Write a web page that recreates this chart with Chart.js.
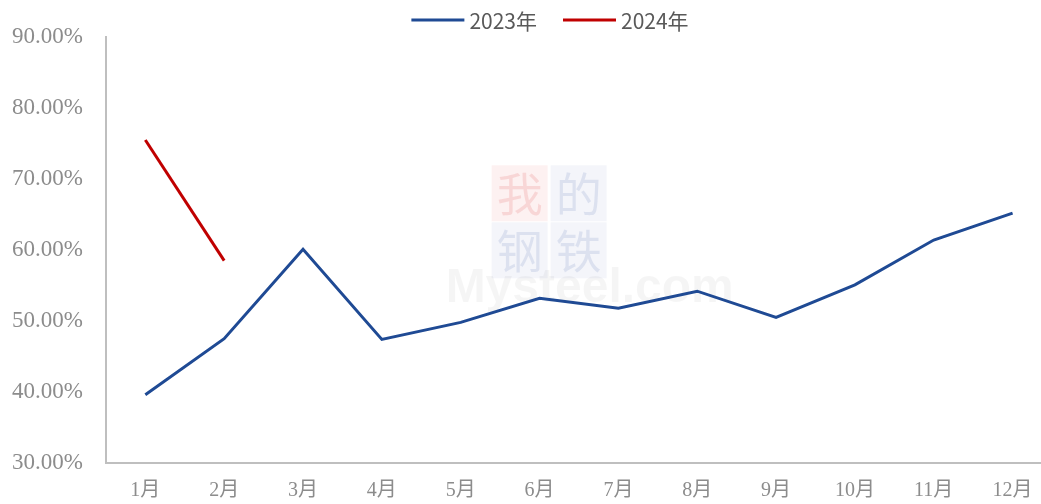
<!DOCTYPE html>
<html>
<head>
<meta charset="utf-8">
<script src="https://cdn.jsdelivr.net/npm/chart.js@4"></script>
<style>
  html, body { margin: 0; padding: 0; background: #fff; overflow: hidden; }
  #wrap { position: relative; width: 1052px; height: 513px; }
</style>
</head>
<body>
<div id="wrap"><canvas id="chart"></canvas></div>
<script>
  // values (percent)
  const months = ['1月', '2月', '3月', '4月', '5月', '6月', '7月', '8月', '9月', '10月', '11月', '12月'];
  const rate2023 = [39.6, 47.5, 60.1, 47.4, 49.8, 53.2, 51.8, 54.2, 50.5, 55.1, 61.4, 65.2];
  const rate2024 = [75.5, 58.5, null, null, null, null, null, null, null, null, null, null];
  const yTicks = [30, 40, 50, 60, 70, 80, 90];

  const axisGrey = '#bfbfbf';
  const tickGrey = '#8c8c8c';

  // faint site watermark behind the lines
  const watermark = {
    id: 'watermark',
    beforeDatasetsDraw(chart) {
      const { ctx, chartArea: a } = chart;
      const cx = a.left + (a.right - a.left) * 0.469;
      const cy = a.top + (a.bottom - a.top) * 0.435;
      const s = 56;
      ctx.save();
      const cells = [
        ['我', -1, -1, 'rgba(230,60,60,0.07)', 'rgba(220,60,60,0.15)'],
        ['的', 0, -1, 'rgba(60,90,170,0.06)', 'rgba(60,90,170,0.13)'],
        ['钢', -1, 0, 'rgba(60,90,170,0.06)', 'rgba(60,90,170,0.13)'],
        ['铁', 0, 0, 'rgba(60,90,170,0.06)', 'rgba(60,90,170,0.13)'],
      ];
      ctx.textAlign = 'center';
      ctx.textBaseline = 'middle';
      ctx.font = '46px "Noto Sans CJK SC"';
      cells.forEach(([ch, dx, dy, bg, fg]) => {
        const x = dx < 0 ? cx - s - 2 : cx + 1;
        const y = dy < 0 ? cy - s - 1 : cy;
        ctx.fillStyle = bg;
        ctx.fillRect(x, y, s, s);
        ctx.fillStyle = fg;
        ctx.fillText(ch, x + s / 2, y + s / 2);
      });
      ctx.font = 'bold 48px "Liberation Sans"';
      ctx.fillStyle = 'rgba(0,0,0,0.04)';
      ctx.textAlign = 'left';
      ctx.fillText('Mysteel.com', cx - 104, cy + s + 10);
      ctx.restore();
    },
  };

  // legend drawn by hand so the sample line sits close to its text
  const topLegend = {
    id: 'topLegend',
    afterDraw(chart) {
      const { ctx } = chart;
      const sets = chart.data.datasets;
      const lineW = 53, gapText = 5, gapItem = 26, y = 20;
      ctx.save();
      ctx.font = '21px "Noto Sans CJK SC", "Noto Sans"';
      ctx.textBaseline = 'middle';
      const widths = sets.map((d) => lineW + gapText + ctx.measureText(d.label).width);
      const total = widths.reduce((s, w) => s + w, 0) + gapItem * (sets.length - 1);
      let x = 550 - total / 2;
      sets.forEach((d, i) => {
        ctx.strokeStyle = d.borderColor;
        ctx.lineWidth = 3;
        ctx.beginPath();
        ctx.moveTo(x, y);
        ctx.lineTo(x + lineW, y);
        ctx.stroke();
        ctx.fillStyle = '#595959';
        ctx.fillText(d.label, x + lineW + gapText, y + 1);
        x += widths[i] + gapItem;
      });
      ctx.restore();
    },
  };

  new Chart(document.getElementById('chart'), {
    type: 'line',
    data: {
      labels: months,
      datasets: [
        {
          label: '2023年',
          data: rate2023,
          borderColor: '#1f4a94',
          backgroundColor: '#1f4a94',
          borderWidth: 3,
          pointRadius: 0,
          tension: 0,
        },
        {
          label: '2024年',
          data: rate2024,
          borderColor: '#c00000',
          backgroundColor: '#c00000',
          borderWidth: 3,
          pointRadius: 0,
          tension: 0,
          spanGaps: false,
        },
      ],
    },
    options: {
      responsive: true,
      maintainAspectRatio: false,
      animation: false,
      layout: { padding: { left: -3, right: 0, top: 37, bottom: 2 } },
      plugins: {
        tooltip: { enabled: false },
        legend: { display: false },
      },
      scales: {
        x: {
          offset: true,
          grid: { display: false },
          border: { display: true, color: axisGrey, width: 2 },
          ticks: {
            color: tickGrey,
            padding: 8,
            font: { family: '"Liberation Serif", "Noto Sans CJK SC"', size: 20 },
          },
        },
        y: {
          min: yTicks[0],
          max: yTicks[yTicks.length - 1],
          afterBuildTicks(axis) { axis.ticks = yTicks.map((v) => ({ value: v })); },
          grid: { display: false },
          border: { display: true, color: axisGrey, width: 2 },
          ticks: {
            color: tickGrey,
            padding: 15,
            font: { family: '"Liberation Serif"', size: 23 },
            callback: (v) => v.toFixed(2) + '%',
          },
        },
      },
    },
    plugins: [watermark, topLegend],
  });
</script>
</body>
</html>
